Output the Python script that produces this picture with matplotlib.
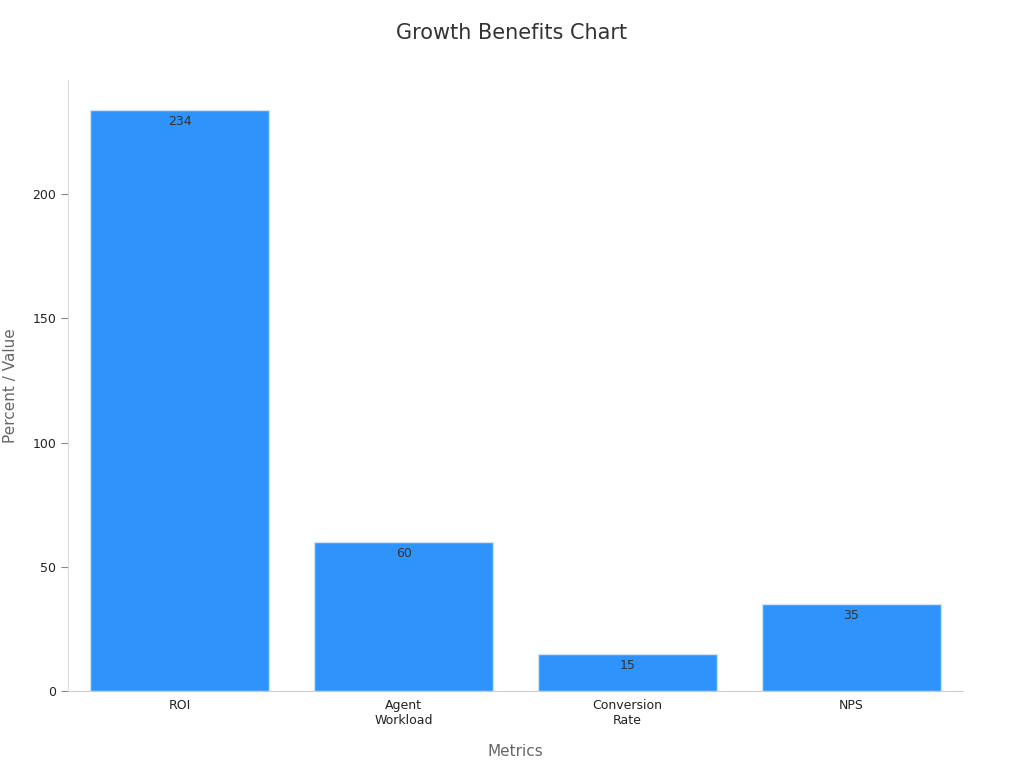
import matplotlib
matplotlib.use("Agg")
import matplotlib.pyplot as plt

# Data
categories = ["ROI", "Agent\nWorkload", "Conversion\nRate", "NPS"]
values = [234, 60, 15, 35]
yticks = [0, 50, 100, 150, 200]

fig = plt.figure(figsize=(10.24, 7.68), dpi=100)
ax = fig.add_axes([68 / 1024, 1 - 691 / 768, (963 - 68) / 1024, (691 - 80) / 768])

x = range(len(categories))
bars = ax.bar(x, values, width=0.8, color="#2E93FA", edgecolor="#cfe3fb", linewidth=1)
for b, v in zip(bars, values):
    ax.text(b.get_x() + b.get_width() / 2, v - 2, str(v), ha="center", va="top",
            fontsize=9, color="#333333")

ax.set_xlim(-0.5, 3.5)
ax.set_ylim(0, 246)
ax.set_xticks(list(x))
ax.set_xticklabels(categories, fontsize=9, color="#222222")
ax.set_yticks(yticks)
ax.tick_params(axis="y", labelsize=9, colors="#222222", length=5, color="#888888")
ax.tick_params(axis="x", length=0, pad=6)

for s in ["top", "right"]:
    ax.spines[s].set_visible(False)
ax.spines["left"].set_color("#dddddd")
ax.spines["bottom"].set_color("#cccccc")

ax.set_xlabel("Metrics", fontsize=11, color="#666666", labelpad=12)
ax.set_ylabel("Percent / Value", fontsize=11, color="#666666", labelpad=10)
fig.suptitle("Growth Benefits Chart", fontsize=15, color="#333333", y=0.97)

fig.savefig("out.png", dpi=100)
